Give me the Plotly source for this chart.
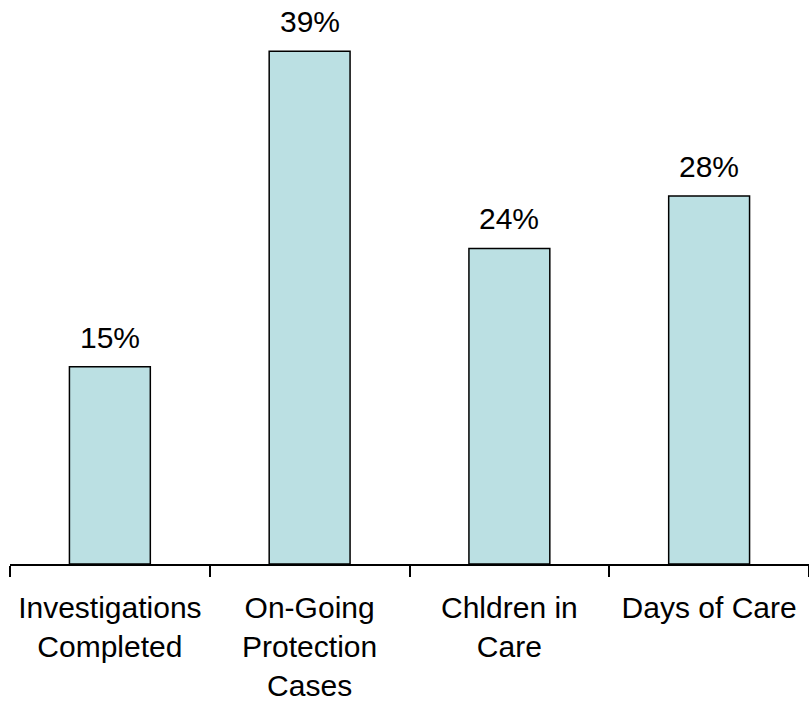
import plotly.graph_objects as go

categories = ["Investigations<br>Completed", "On-Going<br>Protection<br>Cases", "Chldren in<br>Care", "Days of Care"]
values = [15, 39, 24, 28]
labels = ["15%", "39%", "24%", "28%"]

FONT = "Liberation Sans, Arial"

fig = go.Figure(go.Bar(
    x=categories, y=values,
    marker=dict(color="#BBE0E3", line=dict(color="black", width=1.5)),
    width=0.405, cliponaxis=False,
))
for c, v, t in zip(categories, values, labels):
    fig.add_annotation(x=c, y=v, text=t, showarrow=False, yanchor="bottom",
                       yshift=11, font=dict(size=30, color="black", family=FONT))
fig.update_layout(
    width=809, height=706, margin=dict(l=10, r=0, t=0, b=142),
    paper_bgcolor="white", plot_bgcolor="white", showlegend=False,
    font=dict(family=FONT, size=30, color="black"),
)
fig.update_xaxes(showline=True, linecolor="black", linewidth=1.5, ticks="outside",
                 tickson="boundaries", ticklen=11, tickcolor="black", tickwidth=1.5,
                 tickfont=dict(size=30), ticklabelstandoff=16,
                 range=[-0.5, 3.5], showgrid=False)
fig.update_yaxes(visible=False, range=[0, 42.9])
fig.write_html("out.html")
